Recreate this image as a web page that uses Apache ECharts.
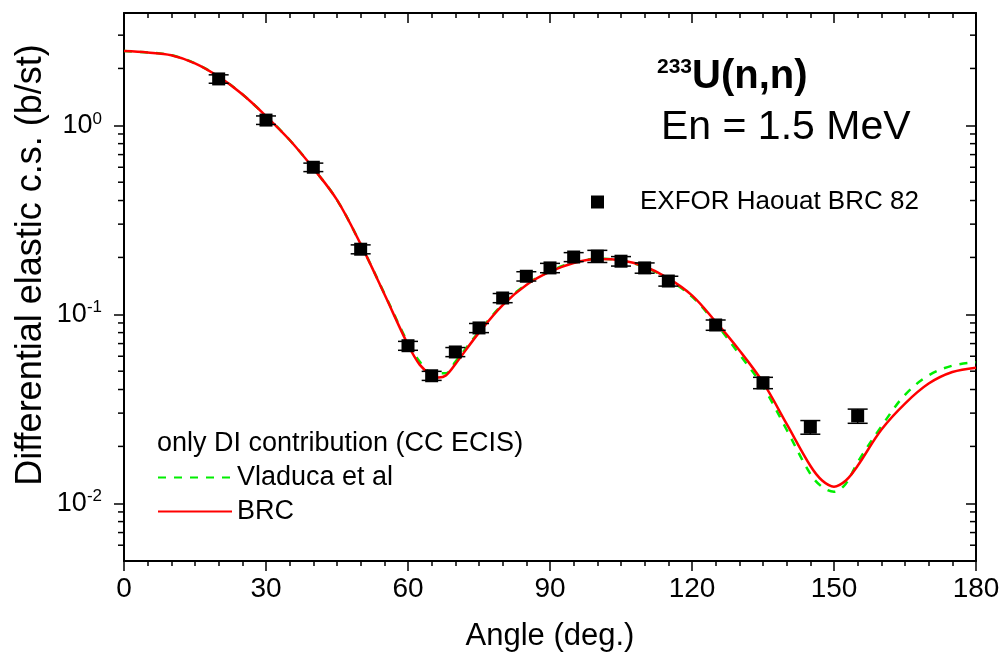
<!DOCTYPE html>
<html>
<head>
<meta charset="utf-8">
<script src="https://cdn.jsdelivr.net/npm/echarts@6/dist/echarts.min.js"></script>
<style>
  html, body { margin: 0; padding: 0; background: #fff; }
  #chart { width: 1002px; height: 652px; }
</style>
</head>
<body>
<div id="chart"></div>
<script>
// Calculated angular distributions (only DI contribution, CC ECIS)
const curveAngles = [0, 5, 10, 15, 20, 25, 30, 35, 40, 45, 50, 55, 60, 62.5, 65, 66.5, 68, 70,
  75, 80, 85, 90, 95, 100, 105, 110, 115, 120, 125, 130, 135, 140, 145, 147.5, 150, 152.5,
  155, 160, 165, 170, 175, 180];
const brcValues = [2.47, 2.43, 2.35, 2.13, 1.81, 1.46, 1.12, 0.836, 0.592, 0.403, 0.235, 0.128, 0.069, 0.054, 0.0475, 0.0463, 0.0475, 0.0545,
  0.080, 0.112, 0.143, 0.168, 0.187, 0.196, 0.193, 0.179, 0.155, 0.126, 0.0914, 0.0645, 0.0436, 0.0263, 0.0158, 0.0132, 0.01225, 0.0132,
  0.0158, 0.0245, 0.0337, 0.043, 0.0495, 0.0522];
const vladucaValues = [2.47, 2.43, 2.35, 2.13, 1.81, 1.46, 1.12, 0.836, 0.592, 0.403, 0.235, 0.129, 0.0705, 0.056, 0.049, 0.0488, 0.0487, 0.056,
  0.081, 0.113, 0.144, 0.169, 0.188, 0.197, 0.193, 0.178, 0.153, 0.124, 0.0895, 0.0615, 0.0415, 0.0245, 0.0143, 0.0122, 0.0115, 0.0127,
  0.0165, 0.0255, 0.0375, 0.0475, 0.0535, 0.0558];

// Measured elastic cross sections, EXFOR (Haouat, BRC 1982)
const exforAngles = [20, 30, 40, 50, 60, 65, 70, 75, 80, 85, 90, 95, 100, 105, 110, 115, 125, 135, 145, 155];
const exforValues = [1.76, 1.066, 0.600, 0.221, 0.0682, 0.0473, 0.0632, 0.0847, 0.122, 0.159, 0.176, 0.201, 0.203, 0.191, 0.176, 0.150, 0.0878, 0.0434, 0.0253, 0.029];
const exforErrors = [0.09, 0.055, 0.031, 0.012, 0.0037, 0.0026, 0.0035, 0.0047, 0.0068, 0.009, 0.010, 0.011, 0.015, 0.011, 0.011, 0.009, 0.0055, 0.003, 0.0021, 0.0025];

// Axis ticks (log scale)
const yMin = 0.00495, yMax = 3.93;
const yMajorTicks = [0.01, 0.1, 1];
const yMinorTicks = [0.006, 0.007, 0.008, 0.009,
  0.02, 0.03, 0.04, 0.05, 0.06, 0.07, 0.08, 0.09,
  0.2, 0.3, 0.4, 0.5, 0.6, 0.7, 0.8, 0.9,
  2, 3];

const FONT = '"Liberation Sans", Arial, Helvetica, sans-serif';
const BLACK = '#000';

const chart = echarts.init(document.getElementById('chart'), null, { renderer: 'canvas' });

const xCommon = {
  type: 'value', min: 0, max: 180, interval: 30,
  splitLine: { show: false },
  axisLine: { onZero: false, lineStyle: { color: BLACK, width: 2 } },
  minorTick: { show: true, splitNumber: 6, length: 5, lineStyle: { color: BLACK, width: 1.5 } },
  minorSplitLine: { show: false }
};

const yCommon = {
  type: 'log', logBase: 10, min: yMin, max: yMax,
  splitLine: { show: false },
  axisLine: { onZero: false, lineStyle: { color: BLACK, width: 2 } }
};

function supLabel(v) {
  const e = Math.round(Math.log10(v));
  return '{m|10}{s|' + e + '}';
}

const option = {
  backgroundColor: '#fff',
  animation: false,
  grid: { left: 124, right: 26, top: 13, bottom: 91, outerBoundsMode: 'none' },
  xAxis: [
    Object.assign({}, xCommon, {
      position: 'bottom',
      axisTick: { show: true, length: 10, lineStyle: { color: BLACK, width: 1.5 } },
      axisLabel: { margin: 14, color: BLACK, fontFamily: FONT, fontSize: 28 },
      name: 'Angle (deg.)', nameLocation: 'middle', nameGap: 60,
      nameTextStyle: { color: BLACK, fontFamily: FONT, fontSize: 31 }
    }),
    Object.assign({}, xCommon, {
      position: 'top',
      axisTick: { show: true, inside: true, length: 10, lineStyle: { color: BLACK, width: 1.5 } },
      axisLabel: { show: false }
    })
  ],
  yAxis: [
    Object.assign({}, yCommon, {
      position: 'left',
      axisTick: { show: true, length: 10, customValues: yMajorTicks, lineStyle: { color: BLACK, width: 1.5 } },
      axisLabel: {
        customValues: yMajorTicks, margin: 22, color: BLACK, fontFamily: FONT,
        formatter: supLabel,
        rich: {
          m: { fontFamily: FONT, fontSize: 27, color: BLACK, lineHeight: 30 },
          s: { fontFamily: FONT, fontSize: 17, color: BLACK, verticalAlign: 'top', lineHeight: 16 }
        }
      }
    }),
    Object.assign({}, yCommon, {
      position: 'right',
      axisTick: { show: true, inside: true, length: 10, customValues: yMajorTicks, lineStyle: { color: BLACK, width: 1.5 } },
      axisLabel: { show: false }
    })
  ],
  legend: [
    {
      data: [{ name: 'EXFOR Haouat BRC 82', icon: 'rect' }],
      left: 591, top: 187, padding: 0,
      itemWidth: 13, itemHeight: 13,
      itemStyle: { opacity: 1 },
      textStyle: { color: BLACK, fontFamily: FONT, fontSize: 26, lineHeight: 30, padding: [0, 0, 0, 31] },
      selectedMode: false
    },
    {
      data: ['Vladuca et al', 'BRC'],
      orient: 'vertical', left: 157, top: 464, padding: 0,
      itemWidth: 74, itemHeight: 14, itemGap: 7,
      itemStyle: { opacity: 0 },
      textStyle: { color: BLACK, fontFamily: FONT, fontSize: 27, lineHeight: 27 },
      selectedMode: false
    }
  ],
  graphic: [
    {
      type: 'text', left: 657, top: 57,
      style: {
        text: '{sup|233}{main|U(n,n)}',
        rich: {
          sup: { fontFamily: FONT, fontWeight: 'bold', fontSize: 21, fill: BLACK, verticalAlign: 'top', lineHeight: 20 },
          main: { fontFamily: FONT, fontWeight: 'bold', fontSize: 40, fill: BLACK, lineHeight: 40 }
        }
      }
    },
    {
      type: 'text', left: 661, top: 107,
      style: { text: 'En = 1.5 MeV', fontFamily: FONT, fontSize: 41, fill: BLACK }
    },
    {
      type: 'text', left: 157, top: 430,
      style: { text: 'only DI contribution (CC ECIS)', fontFamily: FONT, fontSize: 27, fill: BLACK }
    },
    {
      type: 'text', x: 31, y: 265, rotation: Math.PI / 2,
      style: {
        text: 'Differential elastic c.s. (b/st)', fontFamily: FONT, fontSize: 36, fill: BLACK,
        align: 'center', verticalAlign: 'middle'
      }
    }
  ],
  series: [
    {
      name: 'Vladuca et al', type: 'line', xAxisIndex: 0, yAxisIndex: 0,
      data: curveAngles.map((a, i) => [a, vladucaValues[i]]),
      showSymbol: false, symbol: 'none', smooth: 0.35,
      lineStyle: { color: '#00ee00', width: 2.5, type: [8, 8] },
      itemStyle: { color: '#00ee00' },
      z: 2
    },
    {
      name: 'BRC', type: 'line', xAxisIndex: 0, yAxisIndex: 0,
      data: curveAngles.map((a, i) => [a, brcValues[i]]),
      showSymbol: false, symbol: 'none', smooth: 0.35,
      lineStyle: { color: '#ff0000', width: 2.5 },
      itemStyle: { color: '#ff0000' },
      z: 3
    },
    {
      // minor log ticks: outward on the left frame, inward on the right frame
      name: 'minor ticks', type: 'custom', xAxisIndex: 0, yAxisIndex: 0,
      data: yMinorTicks.map(v => [90, v]),
      encode: { x: 0, y: 1 },
      clip: false, silent: true,
      renderItem: function (params, api) {
        const l = api.coord([0, api.value(1)]);
        const r = api.coord([180, api.value(1)]);
        return {
          type: 'group',
          children: [
            { type: 'line', shape: { x1: l[0] - 6, y1: l[1], x2: l[0], y2: l[1] }, style: { stroke: BLACK, lineWidth: 1.5 } },
            { type: 'line', shape: { x1: r[0] - 6, y1: r[1], x2: r[0], y2: r[1] }, style: { stroke: BLACK, lineWidth: 1.5 } }
          ]
        };
      },
      z: 6
    },
    {
      name: 'EXFOR error', type: 'custom', xAxisIndex: 0, yAxisIndex: 0,
      data: exforAngles.map((a, i) => [a, exforValues[i] - exforErrors[i], exforValues[i] + exforErrors[i]]),
      encode: { x: 0, y: [1, 2] },
      renderItem: function (params, api) {
        const lo = api.coord([api.value(0), api.value(1)]);
        const hi = api.coord([api.value(0), api.value(2)]);
        const hw = 10;
        const st = { stroke: BLACK, lineWidth: 1.5 };
        return {
          type: 'group',
          children: [
            { type: 'line', shape: { x1: lo[0], y1: lo[1], x2: hi[0], y2: hi[1] }, style: st },
            { type: 'line', shape: { x1: lo[0] - hw, y1: lo[1], x2: lo[0] + hw, y2: lo[1] }, style: st },
            { type: 'line', shape: { x1: hi[0] - hw, y1: hi[1], x2: hi[0] + hw, y2: hi[1] }, style: st }
          ]
        };
      },
      z: 4, silent: true
    },
    {
      name: 'EXFOR Haouat BRC 82', type: 'scatter', xAxisIndex: 0, yAxisIndex: 0,
      data: exforAngles.map((a, i) => [a, exforValues[i]]),
      symbol: 'rect', symbolSize: 13,
      itemStyle: { color: BLACK, opacity: 1 },
      z: 5
    }
  ]
};

chart.setOption(option);
</script>
</body>
</html>
